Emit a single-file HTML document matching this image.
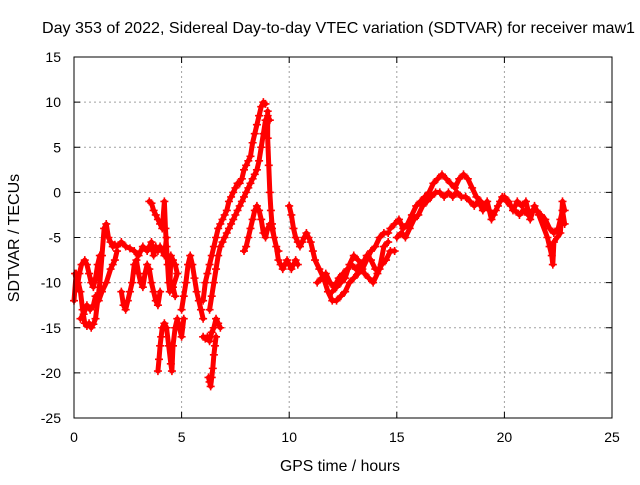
<!DOCTYPE html>
<html><head><meta charset="utf-8"><style>
body{margin:0;background:#fff;}
svg text{font-family:"Liberation Sans",sans-serif;font-size:14px;fill:#000;}
svg text.big{font-size:16px;}
</style></head><body>
<svg id="chart" width="640" height="480" viewBox="0 0 640 480" xmlns="http://www.w3.org/2000/svg">
<rect width="640" height="480" fill="#fff"/>
<text class="big" x="42" y="33" textLength="593" lengthAdjust="spacingAndGlyphs">Day 353 of 2022, Sidereal Day-to-day VTEC variation (SDTVAR) for receiver maw1</text>
<g id="grid"></g>
<g id="ticks"></g>
<g id="marks"></g>
<rect x="74" y="57" width="538" height="361" fill="none" stroke="#000" stroke-width="1"/>
<text class="big" x="280" y="471" textLength="120" lengthAdjust="spacingAndGlyphs">GPS time / hours</text>
<text class="big" transform="translate(19,238) rotate(-90)" text-anchor="middle">SDTVAR / TECUs</text>
</svg>
<script>
const xTicks=[0,5,10,15,20,25];
const yTicks=[15,10,5,0,-5,-10,-15,-20,-25];
// tracks: [time(h), SDTVAR] pairs
const track1=[0,-12,0.1,-9,0.2,-10,0.3,-11,0.4,-13,0.5,-14.5,0.6,-14.8,0.7,-14.5,0.8,-15,0.9,-14.6,1.0,-14,1.1,-12,1.2,-10,1.3,-7,1.4,-4,1.5,-3.5,1.6,-5,1.7,-5.5,1.8,-6,1.9,-5.8,2.0,-6,2.2,-5.5,2.4,-6,2.6,-6.2,2.8,-6.5,3.0,-7,3.2,-6,3.4,-6.5,3.5,-6,3.6,-5.5,3.7,-7,3.8,-6,3.9,-6.5,4.0,-6,4.1,-6.5,4.2,-7,4.3,-5];
const track2=[0.05,-9,0.15,-10.5,0.25,-9,0.35,-8,0.5,-7.5,0.6,-8,0.7,-9,0.8,-10,0.9,-10.5,1.0,-9.5,1.1,-8,1.2,-7];
const track3=[0.3,-14,0.45,-13.5,0.6,-12.5,0.75,-13,0.9,-12.5,1.0,-11.5,1.15,-12,1.3,-11,1.5,-10,1.7,-8.5,1.8,-8,1.9,-7.5,2.0,-6.5];
const track4=[2.2,-11,2.3,-12.5,2.4,-13,2.5,-12,2.6,-11,2.7,-10,2.8,-8,2.9,-7.5,3.0,-9,3.1,-10,3.2,-10.5,3.3,-9,3.4,-8,3.5,-8.5,3.6,-10,3.7,-11,3.8,-12,3.9,-12.5,4.0,-11];
const track5=[3.5,-1,3.6,-1.2,3.7,-2,3.8,-2.5,3.9,-3,4.0,-3.5,4.1,-4,4.2,-1,4.25,-4,4.3,-6,4.35,-8,4.4,-10,4.45,-11,4.5,-7,4.6,-7.5,4.7,-8,4.8,-9,4.6,-10.5,4.7,-11.5];
const track6=[3.9,-19.8,3.95,-18.5,4.0,-17,4.05,-16,4.1,-15,4.2,-14.5,4.3,-15,4.4,-17,4.5,-19,4.55,-19.8,4.6,-17,4.7,-15,4.8,-14,4.9,-15,5.0,-16,5.1,-14];
const track7=[5.0,-13,5.1,-11.5,5.2,-10,5.3,-8,5.4,-7,5.5,-8,5.6,-9.5,5.7,-11,5.8,-12,5.9,-13,6.0,-14];
const track8=[6.0,-16,6.1,-16.2,6.2,-16,6.3,-16.5,6.4,-15.5,6.5,-15,6.6,-14,6.7,-14.5,6.8,-15];
const track9=[6.25,-20.5,6.3,-21,6.35,-21.5,6.4,-20.5,6.45,-19.5,6.5,-18,6.55,-17,6.6,-16];
const track10=[6.0,-12,6.1,-10,6.2,-9,6.3,-8,6.4,-7,6.5,-6,6.6,-5,6.7,-4,6.8,-3.5,6.9,-3,7.0,-2.5,7.1,-2,7.2,-1,7.3,-0.5,7.4,0,7.5,0.5,7.6,1,7.7,1,7.8,1.5,7.9,2.5,8.0,3,8.1,3.5,8.2,4,8.3,5.5,8.4,6.5,8.5,7.5,8.6,8.5,8.7,9.5,8.8,10,8.9,9.8];
const track11=[6.3,-13,6.4,-11.5,6.5,-10,6.6,-8.5,6.7,-7,6.8,-6,6.9,-5.5,7.0,-5,7.1,-4.5,7.2,-4,7.3,-3.5,7.4,-3,7.5,-2.5,7.6,-2,7.7,-1.5,7.8,-1,7.9,-0.5,8.0,0,8.1,0.5,8.2,1,8.3,1.5,8.4,2,8.5,2.5,8.6,3.5,8.7,5,8.8,6.5,8.9,8,9.0,8.5,9.1,8];
const track12=[9.0,9,9.0,6,9.05,3,9.1,0,9.15,-2,9.2,-3.5,9.3,-5,9.4,-6,9.5,-7.5,9.6,-8,9.7,-8.5,9.8,-8,9.9,-7.5,10.0,-8,10.1,-8.5,10.2,-8,10.3,-7.5,10.4,-8];
const track13=[7.9,-6.5,8.0,-6,8.1,-5,8.2,-4,8.3,-3,8.4,-2,8.5,-1.5,8.6,-2,8.7,-3,8.8,-4.5,8.9,-5,9.0,-4,9.1,-3.5,9.2,-4,9.3,-5,9.4,-6,9.5,-6.5];
const track14=[10.0,-1.5,10.1,-2.5,10.2,-4,10.3,-5,10.4,-5.5,10.5,-6,10.6,-5.5,10.7,-5,10.8,-4.5,10.9,-5,11.0,-5.5,11.1,-6.5,11.2,-7.5,11.4,-8.5,11.6,-9.5,11.8,-11,12.0,-12,12.2,-12,12.4,-11.5,12.6,-11,12.8,-10,13.0,-9.5,13.2,-9,13.4,-8.5,13.6,-7.5,13.8,-6.5,14.0,-6,14.2,-5,14.4,-4.5,14.6,-4.5];
const track15=[11.3,-10,11.5,-9.5,11.7,-9,11.9,-10,12.1,-10.5,12.3,-9.5,12.5,-9,12.7,-8.5,12.9,-8,13.1,-8.5,13.3,-8,13.5,-9,13.7,-9.5,13.9,-10,14.1,-9,14.3,-8,14.5,-7.5,14.7,-6.5,14.9,-6.5];
const track16=[12.0,-11,12.2,-10.5,12.4,-10,12.6,-9.5,12.8,-8,13.0,-7,13.2,-7.5,13.4,-8,13.6,-7,13.8,-7.5,14.0,-8.5,14.2,-8.5,14.4,-6,14.6,-5.5];
const track17=[14.7,-4,14.9,-3.5,15.1,-3,15.3,-4,15.5,-3.5,15.7,-2.5,15.9,-1.5,16.1,-1,16.3,-0.5,16.5,0,16.7,1,16.9,1.5,17.1,2,17.3,1.5,17.5,1,17.7,0.5,17.9,1.5,18.1,2,18.3,1.5,18.5,0.5,18.7,-0.5,18.9,-1,19.1,-1.5,19.3,-2,19.5,-2.5,19.7,-1.5,19.9,-0.5,20.1,-1,20.3,-1.5,20.5,-2,20.7,-2.5,20.9,-2,21.1,-2.5,21.3,-2,21.5,-2,21.7,-2.5,21.9,-3,22.1,-4,22.3,-4.5,22.5,-4,22.6,-3,22.7,-2,22.8,-3.5];
const track18=[15.0,-5,15.2,-4.5,15.4,-5,15.6,-4,15.8,-3,16.0,-2.5,16.2,-1.5,16.4,-1,16.6,-0.5,16.8,0,17.0,0,17.2,-0.5,17.4,0,17.6,-0.5,17.8,0,18.0,-0.5,18.2,-0.5,18.4,-1,18.6,-1.5,18.8,-1,19.0,-2,19.2,-1,19.4,-3,19.6,-2,19.8,-1,20.0,-0.5,20.2,-1,20.4,-2,20.6,-1,20.8,-1.5,21.0,-1,21.2,-3,21.4,-1.5,21.6,-2.5,22.0,-5,22.1,-6,22.2,-7,22.25,-8,22.3,-5.5,22.6,-4.5,22.7,-1,22.8,-2];
const tracks=[track1,track2,track3,track4,track5,track6,track7,track8,track9,track10,track11,track12,track13,track14,track15,track16,track17,track18];

const X0=74,X1=612,Y0=418,Y1=57,xMin=0,xMax=25,yMin=-25,yMax=15;
function xs(t){return X0+(t-xMin)/(xMax-xMin)*(X1-X0);}
function ys(v){return Y0-(v-yMin)/(yMax-yMin)*(Y0-Y1);}
const NS="http://www.w3.org/2000/svg";
const grid=document.getElementById('grid'),ticks=document.getElementById('ticks'),marks=document.getElementById('marks');
function mk(tag,a){const e=document.createElementNS(NS,tag);for(const k in a)e.setAttribute(k,a[k]);return e;}
xTicks.forEach(t=>{const x=xs(t);
 if(t>xMin&&t<xMax){const g=mk('line',{x1:x,y1:Y0,x2:x,y2:Y1,stroke:'#a0a0a0','stroke-dasharray':'2,3'});
 
 grid.appendChild(g);}
 const tl=mk('line',{x1:x,y1:Y0,x2:x,y2:Y0-6,stroke:'#000'});
 
 ticks.appendChild(tl);
 const tu=mk('line',{x1:x,y1:Y1,x2:x,y2:Y1+6,stroke:'#000'});ticks.appendChild(tu);
 const lb=mk('text',{x:x,y:Y0+24,'text-anchor':'middle'});lb.textContent=t;
 
 ticks.appendChild(lb);});
yTicks.forEach(v=>{const y=ys(v);
 if(v>yMin&&v<yMax){const g=mk('line',{x1:X0,y1:y,x2:X1,y2:y,stroke:'#a0a0a0','stroke-dasharray':'2,3'});
 
 grid.appendChild(g);}
 const tl=mk('line',{x1:X0,y1:y,x2:X0+6,y2:y,stroke:'#000'});
 
 ticks.appendChild(tl);
 ticks.appendChild(mk('line',{x1:X1,y1:y,x2:X1-6,y2:y,stroke:'#000'}));
 const lb=mk('text',{x:X0-13,y:y+5,'text-anchor':'end'});lb.textContent=v;
 
 ticks.appendChild(lb);});
let d='',ld='';
tracks.forEach(tr=>{for(let i=0;i+1<tr.length;i+=2){const x=xs(tr[i]),y=ys(tr[i+1]);
 d+=`M${x-4},${y}h8M${x},${y-4}v8`;
 ld+=(i===0?'M':'L')+x+','+y;}});
const band=mk('path',{d:ld,stroke:'#ff0000','stroke-width':'5','stroke-linejoin':'round','stroke-linecap':'round',fill:'none'});


marks.appendChild(band);
const p=mk('path',{d:d,stroke:'#ff0000','stroke-width':'1.6',fill:'none'});


marks.appendChild(p);
</script>
</body></html>
